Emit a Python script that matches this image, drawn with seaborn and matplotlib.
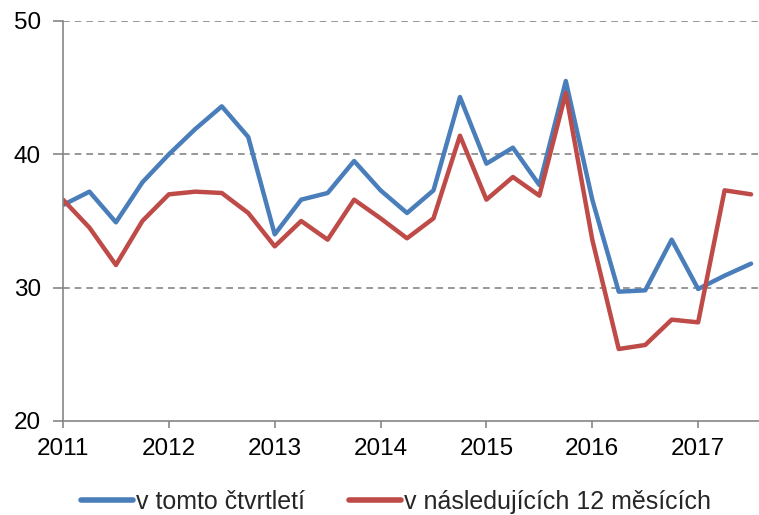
import numpy as np
import pandas as pd
import matplotlib
matplotlib.use("Agg")
import matplotlib.pyplot as plt
import seaborn as sns

# quarterly values, 2011Q1 .. 2017Q3
this_quarter = [36.2, 37.2, 34.9, 37.9, 40.0, 41.9, 43.6, 41.3, 34.0,
                36.6, 37.1, 39.5, 37.3, 35.6, 37.3, 44.3, 39.3, 40.5,
                37.7, 45.5, 36.6, 29.7, 29.8, 33.6, 29.9, 30.9, 31.8]
next_12m = [36.6, 34.5, 31.7, 35.0, 37.0, 37.2, 37.1, 35.6, 33.1,
            35.0, 33.6, 36.6, 35.2, 33.7, 35.2, 41.4, 36.6, 38.3,
            36.9, 44.6, 33.6, 25.4, 25.7, 27.6, 27.4, 37.3, 37.0]
years = ["2011", "2012", "2013", "2014", "2015", "2016", "2017"]
series = ["v tomto čtvrtletí", "v následujících 12 měsících"]
colors = ["#4A7EBB", "#BE4B48"]

n = len(this_quarter)
df = pd.DataFrame({
    "q": list(range(n)) * 2,
    "value": this_quarter + next_12m,
    "series": [series[0]] * n + [series[1]] * n,
})

sns.set_style("white")
plt.rcParams["font.family"] = ["Liberation Sans", "DejaVu Sans"]

fig = plt.figure(figsize=(7.59, 5.15), dpi=100)
ax = fig.add_axes([63 / 759, 1 - 421 / 515, 1 - 63 / 759, 400 / 515])

sns.lineplot(data=df, x="q", y="value", hue="series", palette=colors,
             linewidth=3.2, ax=ax, legend=True)

grey = "#868686"
ax.set_xlim(0, 26.3)
ax.set_ylim(20, 50)
ax.set_yticks([20, 30, 40, 50])
ax.set_xticks(range(0, n, 4))
ax.set_xticklabels(years)
for y in [30, 40, 50]:
    ax.axhline(y, color=grey, lw=1.2, ls=(0, (4, 3)), zorder=0)

for s in ["top", "right"]:
    ax.spines[s].set_visible(False)
for s in ["left", "bottom"]:
    ax.spines[s].set_color(grey)
    ax.spines[s].set_linewidth(1.2)
ax.tick_params(axis="both", direction="out", width=1.2, color=grey,
               labelsize=17.5, labelcolor="black", left=True, bottom=True)
ax.tick_params(axis="y", length=7, pad=9)
ax.tick_params(axis="x", length=5, pad=7)
ax.set_xlabel("")
ax.set_ylabel("")

leg = ax.legend(loc="center", bbox_to_anchor=(0.478, -0.2025), ncol=2,
                frameon=False, fontsize=18, handlelength=2.1,
                handletextpad=0.1, columnspacing=1.75, borderpad=0)
for line in leg.get_lines():
    line.set_linewidth(4)
    line.set_solid_capstyle("round")

fig.savefig("out.png", dpi=100)
